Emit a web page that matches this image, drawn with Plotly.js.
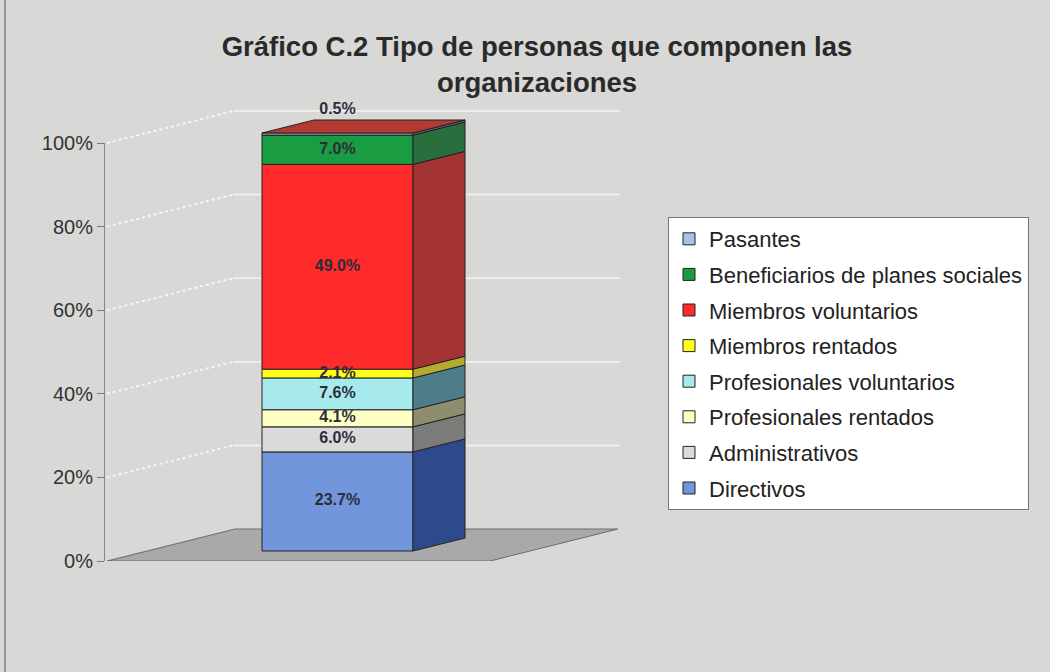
<!DOCTYPE html>
<html>
<head>
<meta charset="utf-8">
<script src="https://cdn.plot.ly/plotly-3.0.1.min.js"></script>
<style>html,body{margin:0;padding:0;background:#d8d8d6;}#chart{width:1050px;height:672px;}</style>
</head>
<body>
<div id="chart"></div>
<script>
// ---- data ----
const categories = ['Directivos', 'Administrativos', 'Profesionales rentados', 'Profesionales voluntarios',
  'Miembros rentados', 'Miembros voluntarios', 'Beneficiarios de planes sociales', 'Pasantes'];
const values = [23.7, 6.0, 4.1, 7.6, 2.1, 49.0, 7.0, 0.5];
const tickVals = [0, 20, 40, 60, 80, 100];
const tickText = ['0%', '20%', '40%', '60%', '80%', '100%'];
const titleText = '<b>Gráfico C.2 Tipo de personas que componen las<br>organizaciones</b>';

// ---- styles ----
const frontColors = ['#7196dc', '#dadada', '#ffffc4', '#a6eaee', '#ffff1a', '#ff2b2b', '#1a9c42', '#a9c2e8'];
const sideColors  = ['#2c4a8c', '#7a7c7a', '#8e8e6e', '#4e7c88', '#b4aa30', '#a43434', '#2a6e3e', '#5a6a8a'];
const topColor = '#b23a30';
const edge = '#222222';
const FONT = 'Liberation Sans, Arial, sans-serif';

// geometry (x in px from plot left, y in percent units)
const PXU = 4.18;                 // px per percent
const H = 471;                    // plot height in px
const YTOP = H / PXU;
const barCenter = 232.5, barWidth = 151;
const frontBase = 10 / PXU;
const sideDx = 52, sideDy = 13 / PXU;
const wallDx = 128, wallDy = 32 / PXU;
const gridEnd = 515;
const floorFront = [2, 385];

const traces = [];

// floor (on the tick subplot, drawn first)
traces.push({type: 'scatter', mode: 'lines', xaxis: 'x', yaxis: 'y', showlegend: false, hoverinfo: 'skip',
  x: [floorFront[0], floorFront[1], floorFront[1] + wallDx, floorFront[0] + wallDx, floorFront[0]],
  y: [0, 0, wallDy, wallDy, 0],
  fill: 'toself', fillcolor: '#a9a9a9', line: {color: '#6f6f6f', width: 1.2}});

// back-wall gridlines and dotted connectors
tickVals.forEach(v => {
  if (v > 0) {
    traces.push({type: 'scatter', mode: 'lines', xaxis: 'x', yaxis: 'y2', showlegend: false, hoverinfo: 'skip',
      x: [wallDx, gridEnd], y: [v + wallDy, v + wallDy], line: {color: '#f4f4f4', width: 1.5}});
    traces.push({type: 'scatter', mode: 'lines', xaxis: 'x', yaxis: 'y2', showlegend: false, hoverinfo: 'skip',
      x: [2, wallDx], y: [v, v + wallDy], line: {color: '#f6f6f6', width: 2, dash: 'dot'}});
  }
});

// front faces (bars)
const x0 = barCenter - barWidth / 2, x1 = barCenter + barWidth / 2;
let cum = 0;
const bottoms = [];
values.forEach((v, i) => {
  bottoms.push(cum);
  traces.push({type: 'bar', xaxis: 'x', yaxis: 'y3', name: categories[i], legendgroup: categories[i],
    legendrank: values.length - i,
    x: [barCenter], y: [v], base: [frontBase + cum], width: [barWidth],
    marker: {color: frontColors[i], line: {color: edge, width: 1}}, textposition: 'none', hoverinfo: 'skip'});
  cum += v;
});
const total = cum;

// side faces
values.forEach((v, i) => {
  const b = frontBase + bottoms[i], t = b + v;
  traces.push({type: 'scatter', mode: 'lines', xaxis: 'x', yaxis: 'y3', showlegend: false, hoverinfo: 'skip',
    x: [x1, x1 + sideDx, x1 + sideDx, x1, x1], y: [b, b + sideDy, t + sideDy, t, b],
    fill: 'toself', fillcolor: sideColors[i], line: {color: edge, width: 1}});
});
// top face
const T = frontBase + total;
traces.push({type: 'scatter', mode: 'lines', xaxis: 'x', yaxis: 'y3', showlegend: false, hoverinfo: 'skip',
  x: [x0, x0 + sideDx, x1 + sideDx, x1, x0], y: [T, T + sideDy, T + sideDy, T, T],
  fill: 'toself', fillcolor: topColor, line: {color: edge, width: 1}});

// value labels
const labY = values.map((v, i) => i === values.length - 1 ? T + 5.5 : frontBase + bottoms[i] + v / 2);
traces.push({type: 'scatter', mode: 'text', xaxis: 'x', yaxis: 'y3', showlegend: false, hoverinfo: 'skip',
  x: values.map(() => barCenter), y: labY, text: values.map(v => v.toFixed(1) + '%'),
  textfont: {family: FONT, size: 16, color: '#2d2d3a', weight: 'bold'}, cliponaxis: false});

const layout = {
  width: 1050, height: 672,
  paper_bgcolor: '#d8d8d6', plot_bgcolor: 'rgba(0,0,0,0)',
  margin: {l: 105, r: 0, t: 561 - H, b: 111},
  font: {family: FONT, color: '#333'},
  title: {text: titleText, x: 537 / 1050, xanchor: 'center', xref: 'container',
    y: 1 - 56 / 672, yanchor: 'top', font: {family: FONT, size: 27.5, color: '#2a2a2a'}},
  barmode: 'overlay',
  showlegend: true,
  legend: {x: (668 - 105) / 945, xanchor: 'left', y: (561 - 217) / H, yanchor: 'top',
    bgcolor: '#ffffff', bordercolor: '#777', borderwidth: 1,
    traceorder: 'grouped', tracegroupgap: 4,
    font: {family: FONT, size: 22, color: '#222'}},
  xaxis: {range: [0, 945], visible: false, fixedrange: true, anchor: 'y'},
  yaxis: {domain: [0, 418 / H], range: [0, 100], anchor: 'x', tickvals: tickVals, ticktext: tickText,
    ticks: 'outside', ticklen: 7, tickcolor: '#777', showline: true, linecolor: '#888', linewidth: 1,
    showgrid: false, zeroline: false, tickfont: {family: FONT, size: 20, color: '#333'}, fixedrange: true},
  yaxis2: {domain: [0, 1], range: [0, YTOP], anchor: 'x', visible: false, fixedrange: true},
  yaxis3: {domain: [0, 1], range: [0, YTOP], anchor: 'x', visible: false, fixedrange: true},
  shapes: [{type: 'line', xref: 'paper', yref: 'paper', x0: (5 - 105) / 945, x1: (5 - 105) / 945,
    y0: -111 / H, y1: (561 - 0) / H, line: {color: '#555', width: 1}}]
};

Plotly.newPlot('chart', traces, layout, {displayModeBar: false, staticPlot: true});
</script>
</body>
</html>
